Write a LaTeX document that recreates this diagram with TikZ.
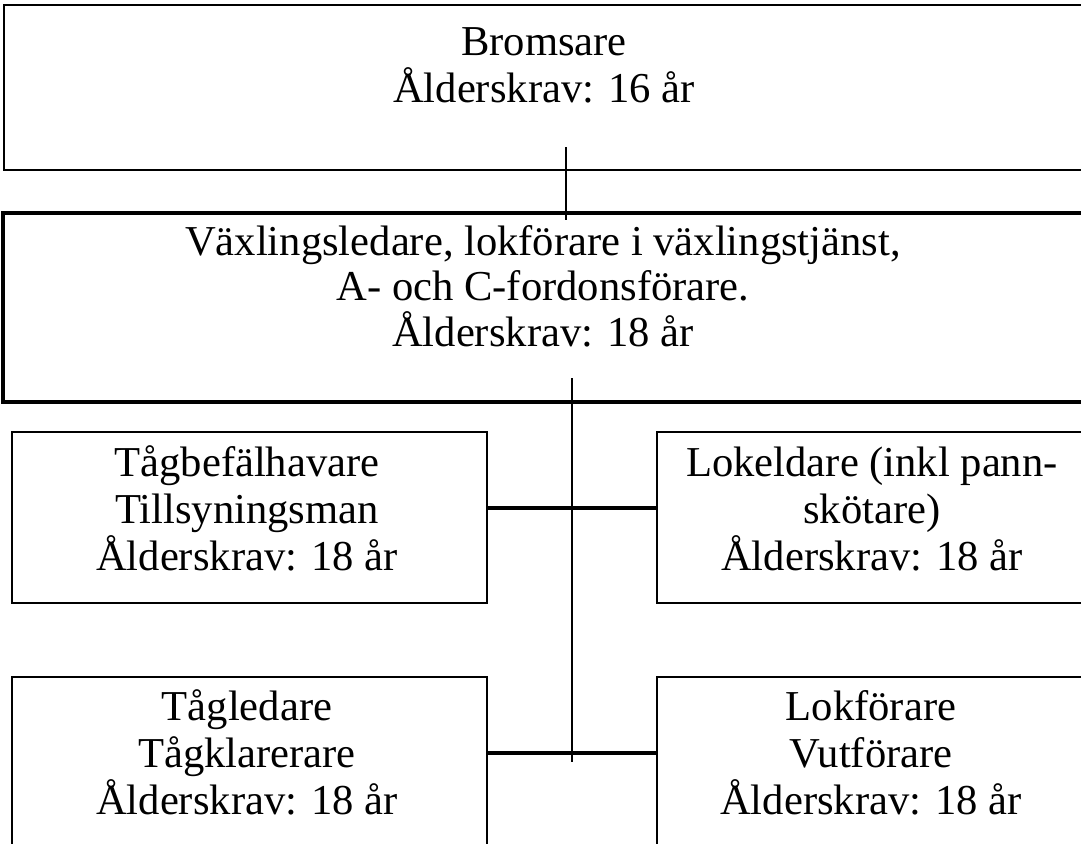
\documentclass[tikz,border=0pt]{standalone}
\usepackage{fontspec}
\setmainfont{Liberation Serif}
\usetikzlibrary{positioning,calc}

\begin{document}
\begin{tikzpicture}[
    x=1pt, y=-1pt,
    box/.style={
        draw=black,
        line width=2.8pt,
        rectangle,
        inner sep=0pt
    },
    wide/.style={box, minimum width=1082pt},
    small/.style={box, minimum height=171pt},
    lbl/.style={
        font=\fontsize{42.6}{47}\selectfont,
        align=center,
        inner sep=0pt,
        anchor=base
    },
    link/.style={line width=1.8pt},
    hlink/.style={line width=3.2pt}
]

\useasboundingbox (0,0) rectangle (1081,843);
\clip (0,0) rectangle (1081,843);

% Top: Bromsare
\node[wide, minimum height=165pt] (brom) at (545, 87.5) {};
\node[lbl] (bromtxt) at (544, 102) {Bromsare\\Ålderskrav: 16 år};

% Second level
\node[wide, line width=3.4pt, minimum height=189pt] (vaxl) at (544, 307.5) {};
\node[lbl, font=\fontsize{42.6}{45.5}\selectfont] (vaxltxt) at (543, 346) {Växlingsledare, lokförare i växlingstjänst,\\A- och C-fordonsförare.\\Ålderskrav: 18 år};

% Third level
\node[small, minimum width=475pt] (tagbef) at (249.5, 517.5) {};
\node[lbl] (tagbeftxt) at (247, 570) {Tågbefälhavare\\Tillsyningsman\\Ålderskrav: 18 år};

\node[small, minimum width=430pt] (lokeld) at (872, 517.5) {};
\node[lbl] (lokeldtxt) at (872, 570) {Lokeldare (inkl pann-\\skötare)\\Ålderskrav: 18 år};

% Fourth level
\node[small, minimum width=475pt] (tagled) at (249.5, 762.5) {};
\node[lbl] (tagledtxt) at (247, 814) {Tågledare\\Tågklarerare\\Ålderskrav: 18 år};

\node[small, minimum width=430pt] (lokfor) at (872, 762.5) {};
\node[lbl] (lokfortxt) at (871, 814) {Lokförare\\Vutförare\\Ålderskrav: 18 år};

% Connectors
\coordinate (top1) at (566, 147);
\coordinate (top2) at (566, 220);
\draw[link] (top1) -- (top2);

\coordinate (mid1) at (572, 378);
\coordinate (mid2) at (572, 762);
\draw[link] (mid1) -- (mid2);

\draw[hlink] ([yshift=9.5pt]tagbef.east) -- ([yshift=9.5pt]lokeld.west);
\draw[hlink] ([yshift=9.5pt]tagled.east) -- ([yshift=9.5pt]lokfor.west);

\end{tikzpicture}
\end{document}
